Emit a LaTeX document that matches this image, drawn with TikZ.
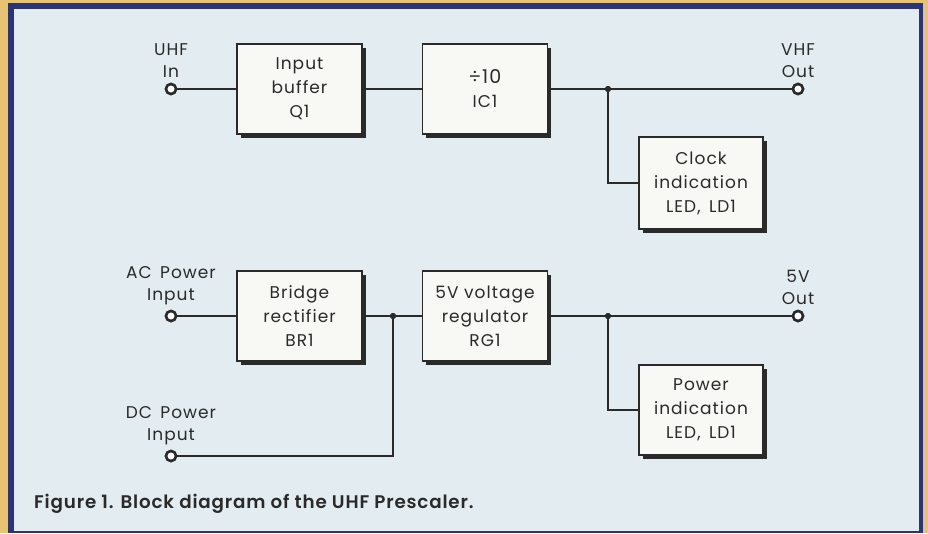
\documentclass[tikz,border=0pt]{standalone}
\usepackage{fontspec}
\setmainfont{Poppins}[LetterSpace=6]
\newfontfamily\capfont{Poppins}[BoldFont=* SemiBold, LetterSpace=4.5]
\usetikzlibrary{shadows}
\definecolor{outerbg}{HTML}{E8C472}
\definecolor{framec}{HTML}{2B3479}
\definecolor{innerbg}{HTML}{E3ECF0}
\definecolor{ink}{HTML}{2A2A2A}
\definecolor{boxfill}{HTML}{F8F9F5}
\begin{document}
\begin{tikzpicture}[x=1pt,y=-1pt,
  blk/.style={draw=ink, line width=1.3pt, fill=boxfill, minimum width=125pt, minimum height=90pt,
    align=center, font=\fontsize{17}{24}\selectfont, text=ink, inner sep=0pt,
    general shadow={fill=ink, shadow xshift=3.5pt, shadow yshift=-3.5pt}},
  term/.style={circle, draw=ink, line width=2.5pt, fill=white, minimum size=10pt, inner sep=0pt},
  jdot/.style={circle, fill=ink, minimum size=6pt, inner sep=0pt},
  lbl/.style={align=center, font=\fontsize{17}{22}\selectfont, text=ink, inner sep=0pt, anchor=south},
  wire/.style={draw=ink, line width=1.1pt}]
\useasboundingbox (0,0) rectangle (928,533);
\fill[outerbg] (0,0) rectangle (928,533);
\fill[framec] (8,3) rectangle (923,533);
\fill[innerbg] (14,9) rectangle (919,531);
% blocks
\node[blk] (buf) at (299.5,89) {Input\\buffer\\Q1};
\node[blk] (div) at (485,89) {{\fontsize{19}{24}\selectfont ÷10}\\IC1};
\node[blk, minimum width=124pt, minimum height=92pt] (clk) at (701,183) {Clock\\indication\\LED,\, LD1};
\node[blk] (br) at (299.5,316) {Bridge\\rectifier\\BR1};
\node[blk] (reg) at (485,316) {5V voltage\\regulator\\RG1};
\node[blk, minimum width=124pt] (pwr) at (701,410) {Power\\indication\\LED,\, LD1};
% junctions
\node[jdot] (j1) at (608,89) {};
\node[jdot] (j2) at (393,316) {};
\node[jdot] (j3) at (608,316) {};
\coordinate (c2) at (393,456);
% terminals
\node[term] (uhf) at (171,89) {};
\node[term] (vhf) at (798,89) {};
\node[term] (ac) at (171,316) {};
\node[term] (dc) at (171,456) {};
\node[term] (vout) at (798,316) {};
% labels
\node[lbl] (luhf) at (171,78) {UHF\\In};
\node[lbl] (lvhf) at (798,78) {VHF\\Out};
\node[lbl] (lac) at (171,305) {AC\, Power\\Input};
\node[lbl] (ldc) at (171,445) {DC\, Power\\Input};
\node[lbl] (lout) at (798,305) {5V\\Out};
% wires
\draw[wire] (uhf) -- (buf);
\draw[wire] (buf) -- (div);
\draw[wire] (div) -- (vhf);
\draw[wire] (j1) |- (clk.west);
\draw[wire] (ac) -- (br);
\draw[wire] (br) -- (reg);
\draw[wire] (dc) -- (c2) -- (j2);
\draw[wire] (reg) -- (vout);
\draw[wire] (j3) |- (pwr.west);
% redraw terminals & dots on top
\node[term] at (uhf) {};
\node[term] at (vhf) {};
\node[term] at (ac) {};
\node[term] at (dc) {};
\node[term] at (vout) {};
\node[jdot] at (j1) {};
\node[jdot] at (j2) {};
\node[jdot] at (j3) {};
% caption
\node[anchor=base west, inner sep=0pt, text=ink, font=\capfont\bfseries\fontsize{18.3}{20}\selectfont] (cap) at (34,508) {Figure 1. Block diagram of the UHF Prescaler.};
\end{tikzpicture}
\end{document}
